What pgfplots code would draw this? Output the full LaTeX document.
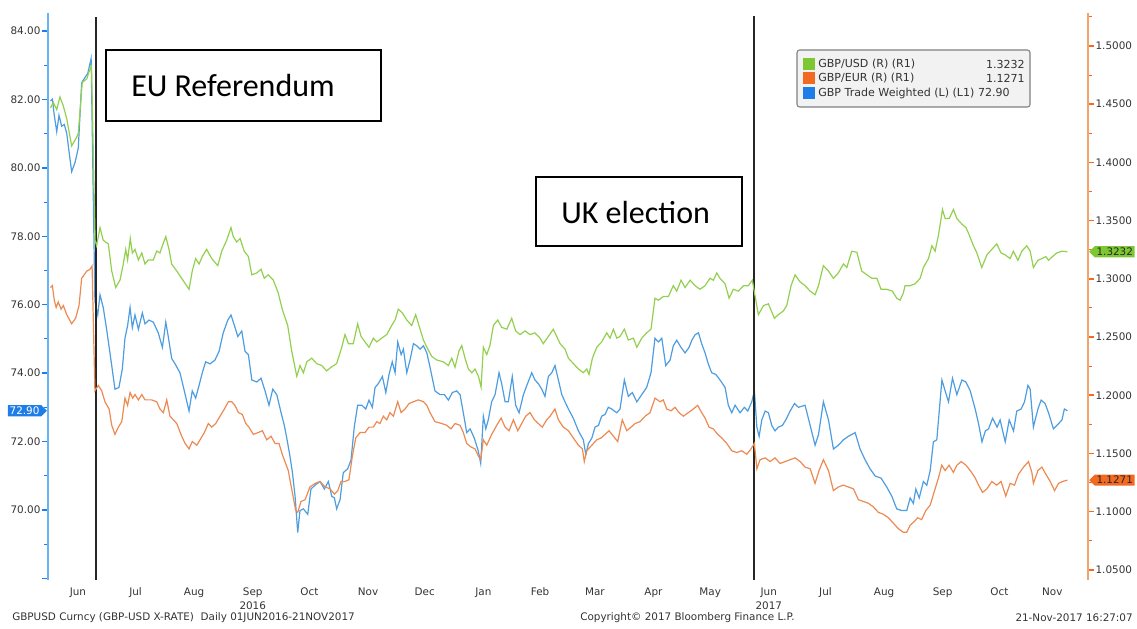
\documentclass[border=0pt]{standalone}
\usepackage{fontspec}
\setmainfont{DejaVu Sans}
\newfontfamily\carlito{Carlito}
\usepackage{pgfplots}
\pgfplotsset{compat=1.18}
\usetikzlibrary{shapes.symbols}
\definecolor{gline}{HTML}{93D04F}
\definecolor{oline}{HTML}{EC8A53}
\definecolor{bline}{HTML}{4D9DE0}
\definecolor{laxis}{HTML}{66B3F5}
\definecolor{raxis}{HTML}{F2A46B}
\definecolor{gtag}{HTML}{7DC832}
\definecolor{otag}{HTML}{F26A21}
\definecolor{btag}{HTML}{1E7DE6}
\definecolor{txt}{HTML}{333333}
\definecolor{legbg}{HTML}{F2F2F2}
\definecolor{legbd}{HTML}{808080}
\newcommand{\tfont}{\fontsize{7.8}{10.5}\selectfont}
\pgfplotsset{base/.style={width=780pt, height=425.25pt, scale only axis,
  at={(0pt,0pt)}, anchor=south west, xmin=-1.32, xmax=548.9,
  tick align=outside, major tick length=4.5pt, minor tick length=3pt,
  ticklabel style={font=\tfont, text=txt},
  axis line style={-}, clip=true}}
\begin{document}
\begin{tikzpicture}
\begin{axis}[base,
  axis y line*=left, axis x line*=bottom,
  x axis line style={draw=none,-},
  y axis line style={draw=laxis, line width=1.5pt,-},
  ymin=67.95, ymax=84.53,
  ytick={68,70,72,74,76,78,80,82,84},
  yticklabels={,70.00,72.00,74.00,76.00,78.00,80.00,82.00,84.00},
  minor ytick={69,71,73,75,77,79,81,83},
  ytick style={draw=btag, line width=1.1pt},
  minor y tick style={draw=btag, line width=0.8pt},
  yticklabel style={inner sep=1pt},
  xtick={14.5,45,76,107,137,168,198,229,259,288,319,349,380,410,441,472,502,530},
  xticklabels={Jun,Jul,Aug,{Sep\\2016},Oct,Nov,Dec,Jan,Feb,Mar,Apr,May,{Jun\\2017},Jul,Aug,Sep,Oct,Nov},
  xtick style={draw=none},
  xticklabel style={align=center, anchor=north, inner sep=0pt, yshift=-1.3pt},
]
\addplot[bline, line width=0.9pt] coordinates {
(0,81.96) (1,82.01) (2,81.54) (3.3,81.06) (4.5,81.54) (5.9,81.22) (7.3,81.27) (8.6,81.01) (9.8,80.48) (11.2,79.89) (13,80.16) (14.7,80.58) (16.5,82.49) (18.3,82.65) (19.7,82.76) (21.5,83.20) (23.5,76.10)
(25,75.70) (26.2,76.29) (27.9,75.92) (29.7,75.28) (32.4,74.22) (34.1,73.53) (36.2,73.58) (38,74.12) (39.4,75.02) (40.8,75.39) (42.1,75.92) (43.3,75.33) (44.7,75.70) (46.5,75.28) (48.6,75.76) (50,75.44) (52.1,75.55) (54.4,75.49) (57,75.18) (59.2,74.75) (61,75.49) (62.3,75.07) (64.1,74.43) (65.9,74.27) (68.5,74.01) (70.8,73.48) (73.3,72.89) (75,73.48) (76.8,73.27) (78.6,73.64) (80.3,74.01) (82.1,74.33) (84.4,74.27) (87,74.38) (89.2,74.64) (91.4,75.18) (93.8,75.55) (95.5,75.70) (97.3,75.39) (99.1,75.07) (101.2,75.23) (102.9,74.64) (104.7,74.54) (106.5,73.80) (109.1,73.74) (111.4,73.85) (113.5,73.48) (115.6,73.06) (117.6,73.53) (119.7,73.37) (122,72.84) (123.7,72.47) (125,72.10) (126.7,71.57) (128,71.09) (129.4,70.40) (130.8,69.34) (132,69.98) (133.8,70.03) (136.1,69.87) (137.8,70.61) (139.9,70.72) (142.6,70.83) (144.9,70.61) (147,70.83) (148.8,70.40) (150.2,70.35) (151.4,70.03) (153.2,70.30) (154.9,71.09) (157.2,71.20) (159,71.46) (160.7,72.42) (162.5,73.06) (164.7,73.06) (166.8,72.95) (168.5,73.21) (170.3,73.00) (171.7,73.58) (173.4,73.69) (175.6,73.90) (177.4,73.43) (179.1,73.96) (180.8,74.33) (182.3,74.01) (183.7,74.91) (185.5,74.54) (186.7,74.70) (188.5,74.01) (190.2,74.38) (192,74.86) (193.8,74.80) (195.5,74.70) (197.3,74.80) (199.1,74.59) (200.8,74.17) (203.4,73.48) (206.1,73.37) (208.4,73.37) (210.5,73.21) (212.6,73.43) (214.9,73.48) (216.7,73.37) (218.4,72.84) (220.2,72.26) (222,72.37) (224.2,72.10) (226.3,71.73) (227.6,71.36) (229,72.74) (230.3,72.37) (231.6,72.63) (233.4,73.16) (235.2,73.37) (237.3,74.01) (238.7,73.69) (240.5,73.16) (242.2,73.16) (244.3,73.90) (246.1,73.06) (247.9,72.84) (250.2,73.37) (252,73.64) (254.6,74.01) (256.3,73.80) (258.1,73.69) (259.9,73.53) (261.6,73.32) (263.4,73.90) (265.2,74.01) (266.9,74.22) (268.7,73.80) (270.5,73.37) (272.2,73.16) (274,72.95) (276.6,72.68) (279.3,72.31) (281.9,72.05) (283.2,71.62) (284.6,71.94) (286.4,72.10) (288.1,72.42) (289.9,72.47) (291.6,72.74) (293.4,72.79) (295.1,73.00) (296.9,72.95) (299.6,72.84) (301.3,72.95) (303.6,73.80) (305.7,73.32) (307.8,73.43) (310.2,73.16) (312.8,73.37) (315.4,73.58) (317.7,74.01) (319.8,75.02) (321.6,74.91) (323.4,75.02) (325.5,74.22) (327.8,74.38) (329.5,74.80) (331.3,74.96) (333.6,74.75) (335.7,74.59) (337.8,74.75) (339.3,74.96) (341,75.12) (342.8,75.18) (344.5,74.86) (346.3,74.59) (348,74.27) (349.8,74.01) (352,73.96) (354.2,73.80) (356.9,73.58) (358.6,73.06) (360.4,72.84) (362.2,73.06) (364.8,72.84) (367.1,73.00) (368.9,72.89) (371,73.16) (372.4,73.48) (373.7,72.42) (374.9,72.15) (376.3,72.63) (378.1,72.89) (379.8,72.84) (381.6,72.47) (383.3,72.31) (385.1,72.42) (387.2,72.47) (389,72.63) (391.3,72.89) (393.6,73.11) (395.7,73.00) (399.2,73.06) (401.9,72.47) (404.5,71.89) (406.3,72.20) (408.9,73.16) (411.6,72.63) (414.2,71.78) (416.8,71.89) (419.5,72.05) (422.1,72.15) (425.7,72.26) (428.3,71.78) (431,71.46) (433.6,71.20) (436.3,70.99) (439.4,70.93) (442.4,70.67) (445.1,70.40) (447.7,70.03) (450.4,69.98) (453,69.98) (454.8,70.35) (456.5,70.19) (457.8,70.61) (459.6,70.35) (461.8,70.83) (463.6,70.72) (465.4,71.15) (467.1,71.99) (468.9,72.05) (471.6,73.80) (473.3,73.48) (475.1,73.16) (477.2,73.85) (479.5,73.37) (482.2,73.80) (484.3,73.74) (486.6,73.48) (489.2,72.95) (491,72.52) (492.8,71.99) (494.6,72.31) (496.3,72.37) (498.4,72.68) (500.8,72.42) (502.4,72.63) (505.1,71.99) (507.2,72.63) (509.5,72.31) (511.2,72.89) (513.5,72.95) (515.3,73.16) (517.1,73.64) (518.3,73.53) (520,72.42) (522.4,72.95) (524.1,73.21) (526.2,73.11) (528,72.84) (530.6,72.37) (533.3,72.52) (535.1,72.63) (536.4,72.95) (538,72.90)
};
\draw[black!85, line width=0.9pt] (axis cs:24.1,67.95) -- (axis cs:24.1,84.41);
\draw[black!85, line width=0.9pt] (axis cs:372.2,67.95) -- (axis cs:372.2,84.44);
\coordinate (tagB) at (axis cs:-1.32,72.90);
\end{axis}
\begin{axis}[base,
  axis y line*=right, axis x line=none,
  y axis line style={draw=raxis, line width=1.5pt,-},
  ymin=1.0413, ymax=1.5283,
  ytick={1.05,1.10,1.15,1.20,1.25,1.30,1.35,1.40,1.45,1.50},
  yticklabels={1.0500,1.1000,1.1500,1.2000,1.2500,1.3000,1.3500,1.4000,1.4500,1.5000},
  minor ytick={1.075,1.125,1.175,1.225,1.275,1.325,1.375,1.425,1.475,1.525},
  ytick style={draw=otag, line width=1.1pt},
  minor y tick style={draw=otag, line width=0.8pt},
  yticklabel style={inner sep=1pt},
]
\addplot[gline, line width=0.9pt] coordinates {
(0,1.4468) (1.5,1.4515) (3.3,1.4453) (5,1.4562) (6.8,1.4484) (8.6,1.4374) (11.2,1.4141) (13.9,1.4218) (14.7,1.4250) (16.8,1.4686) (19.2,1.4717) (20.4,1.4779) (21.7,1.4828) (23.6,1.3330) (24.4,1.3284) (26.2,1.3440) (27.9,1.3331) (30.6,1.3299) (32.4,1.3067) (34.5,1.2925) (36.8,1.2990) (38.5,1.3127) (39.8,1.3253) (40.8,1.3162) (42.2,1.3346) (43.3,1.3222) (44.7,1.3253) (46.5,1.3162) (48.3,1.3222) (50,1.3127) (51.7,1.3162) (54.4,1.3162) (56.2,1.3239) (57.9,1.3222) (59.2,1.3284) (61,1.3362) (62.7,1.3253) (64.1,1.3127) (66.8,1.3067) (69.4,1.3004) (73.3,1.2910) (75,1.3067) (76.8,1.3174) (78.6,1.3127) (80.3,1.3191) (82.6,1.3253) (85.3,1.3174) (88.5,1.3113) (90.6,1.3237) (93.2,1.3331) (95.5,1.3440) (96.7,1.3362) (98.5,1.3316) (100.3,1.3346) (102.5,1.3237) (104.7,1.3191) (106.5,1.3034) (109.1,1.3050) (111.4,1.3082) (113.1,1.3004) (115.2,1.3034) (117.9,1.2988) (120.5,1.2878) (122.6,1.2739) (125.5,1.2599) (127.6,1.2380) (130.3,1.2163) (132,1.2255) (133.8,1.2193) (135.6,1.2287) (138.2,1.2318) (140.8,1.2272) (143.5,1.2255) (146.1,1.2209) (148.4,1.2240) (151.4,1.2272) (154.1,1.2412) (155.8,1.2521) (157.6,1.2443) (160.2,1.2443) (162.5,1.2614) (164.3,1.2505) (166.4,1.2458) (168.5,1.2412) (170.8,1.2490) (172.6,1.2458) (175.2,1.2490) (177.9,1.2521) (180.5,1.2599) (182.3,1.2646) (184,1.2739) (186.1,1.2708) (188.5,1.2646) (191.1,1.2599) (193.2,1.2692) (195.5,1.2569) (197.3,1.2474) (199.1,1.2412) (201.7,1.2334) (204.3,1.2303) (207.8,1.2287) (210.5,1.2255) (212.3,1.2318) (214,1.2240) (216.1,1.2380) (217.6,1.2427) (219.3,1.2318) (221.1,1.2225) (222.9,1.2193) (224.6,1.2225) (226.4,1.2163) (227.8,1.2069) (229,1.2412) (230.8,1.2349) (232.5,1.2427) (234.3,1.2599) (236.6,1.2646) (238.7,1.2583) (241.4,1.2567) (244,1.2661) (246.1,1.2552) (248.4,1.2521) (251.1,1.2552) (253.7,1.2521) (256.3,1.2536) (259,1.2490) (260.7,1.2443) (263.4,1.2505) (266,1.2567) (269.6,1.2443) (272.2,1.2396) (274,1.2318) (276.6,1.2272) (279.3,1.2225) (281.9,1.2193) (283.7,1.2225) (284.9,1.2178) (286.7,1.2318) (289,1.2412) (291.6,1.2458) (294.3,1.2536) (296,1.2490) (297.8,1.2567) (299.6,1.2490) (301.3,1.2505) (303.6,1.2567) (305.7,1.2474) (308.4,1.2490) (310.2,1.2412) (312.8,1.2490) (315.4,1.2536) (317.7,1.2567) (319.8,1.2833) (321.6,1.2816) (324.2,1.2848) (326.9,1.2848) (329.5,1.2941) (331.3,1.2894) (333.6,1.2988) (335.7,1.2925) (338.4,1.2988) (341,1.2941) (343.6,1.2910) (346.3,1.2941) (348.9,1.3004) (350.7,1.2988) (352.5,1.3050) (354.2,1.3004) (356.9,1.2957) (359,1.2833) (361.3,1.2910) (363.9,1.2894) (366.6,1.2941) (369.2,1.2941) (371.3,1.2988) (372.8,1.2848) (374.5,1.2692) (377.2,1.2770) (379.8,1.2785) (383,1.2661) (385.1,1.2692) (387.7,1.2724) (389.5,1.2770) (391.8,1.2941) (393.9,1.3034) (396.6,1.2973) (399.2,1.2941) (401.9,1.2894) (404.5,1.2863) (406.3,1.2941) (408.9,1.3113) (411.6,1.3066) (414.2,1.3004) (416.8,1.3050) (419.5,1.3128) (421.3,1.3097) (423.9,1.3237) (426.6,1.3228) (429.2,1.3066) (431.9,1.3034) (434.5,1.3004) (437.2,1.3004) (439.4,1.2910) (442.4,1.2910) (445.4,1.2894) (447.7,1.2833) (449.5,1.2816) (451.2,1.2879) (452.1,1.2941) (454.8,1.2941) (457.4,1.2957) (460.1,1.3004) (461.8,1.3097) (464.5,1.3174) (466.3,1.3284) (468,1.3237) (469.8,1.3377) (471.9,1.3595) (473.3,1.3518) (475.5,1.3518) (477.7,1.3595) (479.5,1.3518) (482.1,1.3471) (484.3,1.3440) (485.6,1.3394) (488.3,1.3284) (490.1,1.3222) (492.7,1.3097) (495.4,1.3206) (498,1.3253) (500.6,1.3300) (502.9,1.3222) (505,1.3206) (507.7,1.3174) (509.4,1.3237) (511.8,1.3159) (513.9,1.3237) (516.5,1.3284) (518.3,1.3237) (520,1.3097) (522.4,1.3159) (524.5,1.3174) (526.6,1.3191) (528,1.3159) (530.1,1.3191) (532.4,1.3222) (535.1,1.3237) (538,1.3232)
};
\addplot[oline, line width=0.9pt] coordinates {
(0,1.2925) (1,1.2941) (2,1.2816) (3,1.2754) (4.1,1.2801) (5.6,1.2739) (6.8,1.2770) (8.6,1.2692) (11.2,1.2614) (13.3,1.2661) (15.1,1.2770) (16.5,1.3004) (19.2,1.3066) (20.9,1.3082) (22,1.3110) (23.5,1.2038) (25.3,1.2084) (27.1,1.2038) (28.8,1.1944) (31,1.1882) (32.4,1.1742) (34.1,1.1664) (35.9,1.1726) (37.7,1.1773) (39.4,1.1975) (40.8,1.1913) (42.1,1.2023) (43.5,1.1975) (44.7,1.2006) (46.5,1.1960) (48.3,1.2006) (50,1.1960) (53.5,1.1960) (56.2,1.1944) (57.9,1.1882) (59.7,1.1851) (61.5,1.1960) (63.2,1.1820) (65,1.1789) (66.8,1.1757) (69.4,1.1648) (71.2,1.1586) (73.3,1.1539) (75,1.1602) (77.4,1.1571) (79.1,1.1617) (81.4,1.1680) (83.5,1.1757) (85.3,1.1726) (87.4,1.1757) (89.7,1.1820) (92,1.1882) (94.1,1.1944) (95.9,1.1944) (97.6,1.1913) (99.4,1.1851) (101.5,1.1835) (103.3,1.1757) (105,1.1726) (107.3,1.1664) (110,1.1680) (112.1,1.1695) (114.4,1.1617) (116.7,1.1648) (118.8,1.1586) (120.9,1.1586) (122.6,1.1493) (124.4,1.1414) (125.8,1.1353) (127.2,1.1228) (128.5,1.1119) (129.7,1.1010) (130.8,1.0994) (132.5,1.1087) (134.7,1.1103) (137.3,1.1213) (140,1.1243) (142.6,1.1259) (145.2,1.1213) (147.9,1.1196) (150.2,1.1150) (152,1.1181) (153.7,1.1259) (155.8,1.1259) (157.9,1.1274) (159.7,1.1477) (161.5,1.1633) (163.8,1.1680) (166.4,1.1680) (168.5,1.1726) (170.8,1.1726) (172.6,1.1773) (174.3,1.1757) (176.1,1.1820) (177.9,1.1789) (179.6,1.1851) (181.4,1.1820) (183.7,1.1944) (185.5,1.1851) (187.6,1.1882) (189.7,1.1929) (192,1.1944) (194.6,1.1960) (197.3,1.1944) (199.1,1.1913) (200.8,1.1851) (203.4,1.1773) (207,1.1757) (209.6,1.1742) (211.9,1.1711) (214,1.1757) (216.7,1.1742) (218.4,1.1680) (220.2,1.1586) (222.5,1.1555) (224.6,1.1539) (226.4,1.1477) (227.6,1.1446) (229,1.1617) (230.8,1.1571) (233.4,1.1664) (236.1,1.1742) (238.4,1.1804) (240.5,1.1726) (242.6,1.1695) (244.9,1.1789) (247.2,1.1695) (249.3,1.1757) (251.4,1.1820) (253.7,1.1851) (256,1.1789) (258.1,1.1757) (260.2,1.1726) (262.5,1.1789) (264.3,1.1820) (266.9,1.1882) (268.7,1.1789) (271.3,1.1726) (274,1.1695) (276.6,1.1633) (279.3,1.1571) (281.4,1.1539) (282.4,1.1430) (283.7,1.1523) (286.4,1.1571) (289,1.1617) (291.3,1.1633) (293.4,1.1664) (295.5,1.1695) (297.8,1.1648) (300.1,1.1602) (302.5,1.1789) (304.9,1.1695) (307.1,1.1726) (309.3,1.1757) (311.9,1.1773) (314.6,1.1820) (317.2,1.1851) (319.8,1.1975) (322.5,1.1944) (324.2,1.1960) (326,1.1882) (328.3,1.1866) (330.4,1.1897) (332.5,1.1851) (334.8,1.1820) (337.5,1.1851) (340.1,1.1882) (342.4,1.1913) (344.5,1.1851) (346.3,1.1804) (348.4,1.1726) (350.7,1.1711) (353,1.1664) (355.1,1.1633) (357.8,1.1586) (360.4,1.1523) (363.1,1.1508) (365.7,1.1523) (368.4,1.1493) (370.6,1.1539) (372.4,1.1586) (373.7,1.1368) (375.4,1.1446) (378.1,1.1462) (380.7,1.1430) (383.3,1.1462) (386,1.1414) (388.6,1.1430) (391.3,1.1446) (393.9,1.1462) (396.6,1.1430) (399.2,1.1383) (401.9,1.1368) (404.5,1.1243) (406.6,1.1353) (408.9,1.1446) (411.6,1.1353) (414.2,1.1181) (416.8,1.1212) (419.5,1.1228) (422.1,1.1212) (424.8,1.1196) (427.4,1.1103) (430.1,1.1087) (432.7,1.1072) (435.3,1.1041) (438,1.0994) (440.6,1.0978) (443.3,1.0947) (445.9,1.0901) (448.6,1.0853) (451.2,1.0823) (453,1.0823) (454.8,1.0884) (457,1.0916) (458.8,1.0947) (460.9,1.0932) (463.1,1.1010) (465.4,1.1056) (468,1.1196) (469.8,1.1290) (471.5,1.1399) (473.3,1.1353) (475.4,1.1399) (477.7,1.1337) (479.5,1.1399) (481.8,1.1430) (484.3,1.1399) (486.6,1.1353) (489.2,1.1290) (491,1.1228) (493.1,1.1165) (495.4,1.1196) (498,1.1259) (500.6,1.1228) (502.9,1.1259) (505.4,1.1134) (507.7,1.1243) (510,1.1228) (512.1,1.1321) (514.8,1.1383) (517.4,1.1430) (519.2,1.1337) (520,1.1243) (522.4,1.1353) (524.5,1.1383) (526.6,1.1321) (528.9,1.1259) (531.2,1.1181) (533.3,1.1243) (535.4,1.1259) (538,1.1271)
};
\coordinate (tagG) at (axis cs:548.9,1.3232);
\coordinate (tagO) at (axis cs:548.9,1.1271);
\end{axis}
% value tags
\node[signal, signal to=east, fill=btag, text=white, inner sep=1.3pt, font=\tfont, anchor=east] at ([xshift=-0.6pt]tagB) {72.90};
\node[signal, signal to=west, fill=gtag, text=black!85, inner sep=1.3pt, font=\tfont, anchor=west] at ([xshift=0.6pt]tagG) {1.3232};
\node[signal, signal to=west, fill=otag, text=black!85, inner sep=1.3pt, font=\tfont, anchor=west] at ([xshift=0.6pt]tagO) {1.1271};
% annotation boxes
\draw[black, line width=1.5pt] (43.5pt,344.25pt) rectangle (249.75pt,397.5pt);
\node[anchor=west, inner sep=0pt, font=\carlito\fontsize{24}{28}\selectfont] at (62.25pt,370.5pt) {EU Referendum};
\draw[black, line width=1.5pt] (366pt,250.5pt) rectangle (520.5pt,302.25pt);
\node[anchor=west, inner sep=0pt, font=\carlito\fontsize{24}{28}\selectfont] at (384.75pt,275.25pt) {UK election};
% legend
\draw[draw=legbd, fill=legbg, rounded corners=2pt, line width=0.8pt] (561.75pt,354.75pt) rectangle (736.5pt,397.5pt);
\fill[gtag] (566.25pt,382.5pt) rectangle (575.25pt,391.5pt);
\fill[otag] (566.25pt,372pt) rectangle (575.25pt,381pt);
\fill[btag] (566.25pt,360.75pt) rectangle (575.25pt,369.75pt);
\begin{scope}[every node/.style={inner sep=0pt, font=\fontsize{8.3}{10}\selectfont, text=txt}]
\node[anchor=west] at (577.5pt,387pt) {GBP/USD (R) (R1)};
\node[anchor=east] at (732.75pt,387pt) {1.3232};
\node[anchor=west] at (577.5pt,376.5pt) {GBP/EUR (R) (R1)};
\node[anchor=east] at (732.75pt,376.5pt) {1.1271};
\node[anchor=west] at (577.5pt,365.25pt) {GBP Trade Weighted (L) (L1) 72.90};
\end{scope}
% footer
\begin{scope}[every node/.style={inner sep=0pt, font=\tfont, text=txt}]
\node[anchor=west] at (-27pt,-28.5pt) {GBPUSD Curncy (GBP-USD X-RATE)\ \ Daily 01JUN2016-21NOV2017};
\node[anchor=west] at (399pt,-28.5pt) {Copyright© 2017 Bloomberg Finance L.P.};
\node[anchor=east] at (813.75pt,-28.5pt) {21-Nov-2017 16:27:07};
\end{scope}
\pgfresetboundingbox
\path[use as bounding box] (-36pt,-36pt) rectangle (816.75pt,435pt);
\end{tikzpicture}
\end{document}
